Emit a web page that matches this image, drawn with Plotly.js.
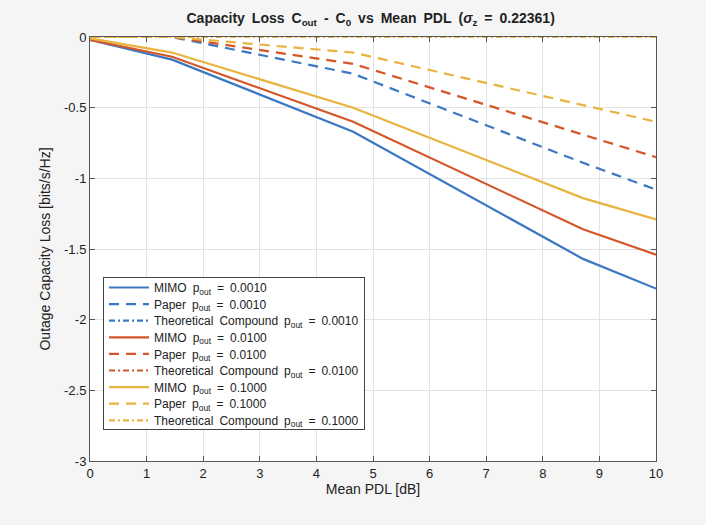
<!DOCTYPE html>
<html>
<head>
<meta charset="utf-8">
<script src="https://cdn.plot.ly/plotly-3.0.1.min.js"></script>
<style>
html,body{margin:0;padding:0;background:#f5f5f5;}
#chart{width:706px;height:525px;}
</style>
</head>
<body>
<div id="chart"></div>
<script>
// Data
const pdl = [0, 1.45, 4.65, 8.71, 10];
const mimo_0010 = [-0.02, -0.16, -0.67, -1.57, -1.78];
const mimo_0100 = [-0.02, -0.14, -0.60, -1.36, -1.54];
const mimo_1000 = [-0.01, -0.11, -0.50, -1.14, -1.29];
const paper_0010 = [0, 0, -0.26, -0.89, -1.08];
const paper_0100 = [0, 0, -0.19, -0.69, -0.85];
const paper_1000 = [0, 0, -0.11, -0.48, -0.60];
const theo_0010 = [0, 0, 0, 0, 0];
const theo_0100 = [0, 0, 0, 0, 0];
const theo_1000 = [0, 0, 0, 0, 0];
const poutLabels = ['0.0010', '0.0100', '0.1000'];
const xTicks = [0,1,2,3,4,5,6,7,8,9,10];
const yTicks = [0,-0.5,-1,-1.5,-2,-2.5,-3];
const yTickText = ['0','-0.5','-1','-1.5','-2','-2.5','-3'];

const colors = ['#3b78c3', '#d4572a', '#e8b43f'];
const series = [
  [mimo_0010, paper_0010, theo_0010],
  [mimo_0100, paper_0100, theo_0100],
  [mimo_1000, paper_1000, theo_1000]
];
const names = ['MIMO', 'Paper', 'Theoretical&#8194;Compound'];
const dashes = ['solid', '10px,7px', '6px,3px,2px,3px'];

const traces = [];
series.forEach((grp, i) => {
  grp.forEach((vals, j) => {
    traces.push({
      x: pdl, y: vals, type: 'scatter', mode: 'lines',
      name: names[j] + '&#8194;p<sub>out</sub>&#8194;=&#8194;' + poutLabels[i],
      line: {color: colors[i], width: 2.2, dash: dashes[j]},
      cliponaxis: true
    });
  });
});

const axisCommon = {
  showline: true, linecolor: '#555', linewidth: 1, mirror: 'ticks',
  ticks: 'inside', ticklen: 5, tickcolor: '#555',
  showgrid: true, gridcolor: '#e3e3e3', gridwidth: 1,
  zeroline: false,
  tickfont: {family: 'Liberation Sans, Arial, sans-serif', size: 13, color: '#222'}
};

const layout = {
  width: 706, height: 525,
  paper_bgcolor: '#f5f5f5', plot_bgcolor: '#ffffff',
  margin: {l: 90, r: 50, t: 37, b: 64},
  font: {family: 'Liberation Sans, Arial, sans-serif', color: '#222'},
  title: {
    text: '<b>Capacity&#8194;Loss&#8194;C<sub>out</sub>&#8194;-&#8194;C<sub>0</sub>&#8194;vs&#8194;Mean&#8194;PDL&#8194;(<i>σ</i><sub>z</sub>&#8194;=&#8194;0.22361)</b>',
    font: {size: 14, color: '#222'},
    x: 0.525, xanchor: 'center', y: 0.965, yanchor: 'middle'
  },
  xaxis: Object.assign({}, axisCommon, {
    range: [0, 10], tickvals: xTicks,
    title: {text: 'Mean PDL [dB]', font: {size: 14, color: '#222'}, standoff: 4}
  }),
  yaxis: Object.assign({}, axisCommon, {
    range: [-3, 0], tickvals: yTicks, ticktext: yTickText,
    title: {text: 'Outage Capacity Loss [bits/s/Hz]', font: {size: 14, color: '#222'}, standoff: 10}
  }),
  showlegend: true,
  legend: {
    x: 0.023, y: 0.434, xanchor: 'left', yanchor: 'top',
    bgcolor: '#ffffff', bordercolor: '#444', borderwidth: 1,
    font: {size: 12, color: '#222'}, itemwidth: 40, tracegroupgap: 0
  }
};

Plotly.newPlot('chart', traces, layout, {displayModeBar: false, staticPlot: true}).then(function () {
  // tighten legend row spacing to match the reference (~16.6px per row)
  const leg = document.querySelector('.legend');
  if (!leg) return;
  const items = Array.from(leg.querySelectorAll('g.traces'));
  if (!items.length) return;
  const parse = t => {
    const m = /translate\(\s*([-\d.]+)[ ,]+([-\d.]+)\s*\)/.exec(t || '');
    return m ? [parseFloat(m[1]), parseFloat(m[2])] : [0, 0];
  };
  const first = parse(items[0].getAttribute('transform'));
  const last = parse(items[items.length - 1].getAttribute('transform'));
  const oldStep = items.length > 1 ? (last[1] - first[1]) / (items.length - 1) : 0;
  const step = 16.6;
  const lift = 5;
  items.forEach((g, i) => {
    const p = parse(g.getAttribute('transform'));
    g.setAttribute('transform', 'translate(' + p[0] + ',' + (first[1] - lift + i * step) + ')');
  });
  const shrink = (oldStep - step) * items.length + 8;
  leg.querySelectorAll('rect.bg').forEach(r => {
    const h = parseFloat(r.getAttribute('height'));
    if (!isNaN(h)) r.setAttribute('height', h - shrink);
  });
  leg.querySelectorAll('clipPath rect, defs rect').forEach(r => {
    const h = parseFloat(r.getAttribute('height'));
    if (!isNaN(h)) r.setAttribute('height', h - shrink);
  });
});
</script>
</body>
</html>
